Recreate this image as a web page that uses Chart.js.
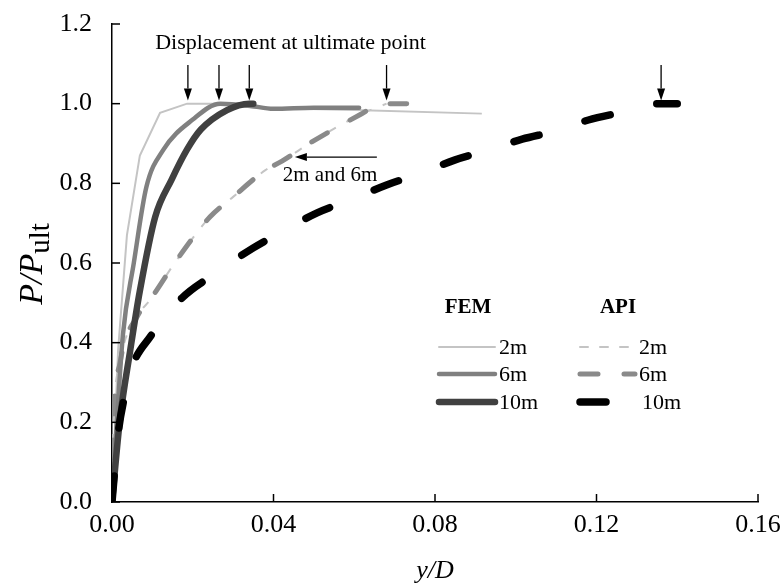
<!DOCTYPE html>
<html>
<head>
<meta charset="utf-8">
<script src="https://cdn.jsdelivr.net/npm/chart.js@4.4.1/dist/chart.umd.min.js"></script>
<style>
  html, body { margin: 0; padding: 0; background: #fff; }
</style>
</head>
<body>
<canvas id="chart" width="784" height="588"></canvas>
<script>
// tick values
const xTicks = [0, 0.04, 0.08, 0.12, 0.16];
const yTicks = [0, 0.2, 0.4, 0.6, 0.8, 1.0, 1.2];

// FEM curves (y/D, P/Pult)
const fem2mX = [0, 0.0015, 0.0037, 0.0069, 0.0119, 0.0186, 0.027, 0.035, 0.06, 0.0916];
const fem2mY = [0, 0.38, 0.67, 0.87, 0.977, 1.0, 1.0, 0.99, 0.984, 0.975];
const fem6mX = [0, 0.0012, 0.0027, 0.0054, 0.0085, 0.0127, 0.02, 0.0268, 0.034, 0.04, 0.05, 0.0612];
const fem6mY = [0, 0.2, 0.42, 0.6, 0.79, 0.884, 0.96, 1.0, 0.995, 0.987, 0.99, 0.99];
const fem10mX = [0, 0.002, 0.0045, 0.0069, 0.0107, 0.0148, 0.0186, 0.022, 0.0285, 0.034, 0.035];
const fem10mY = [0, 0.21, 0.38, 0.53, 0.716, 0.81, 0.885, 0.935, 0.984, 1.0, 1.0];

// API curves
const api2mX = [0, 0.0003, 0.002, 0.0062, 0.0094, 0.016, 0.0243, 0.030, 0.038, 0.042, 0.0495, 0.0614, 0.068];
const api2mY = [0, 0.17, 0.35, 0.465, 0.507, 0.607, 0.716, 0.766, 0.833, 0.855, 0.904, 0.972, 1.0];
const api6mX = [0, 0.0003, 0.002, 0.0062, 0.0094, 0.016, 0.0243, 0.030, 0.038, 0.042, 0.0495, 0.0614, 0.0668, 0.073];
const api6mY = [0, 0.17, 0.35, 0.465, 0.507, 0.607, 0.716, 0.766, 0.833, 0.855, 0.904, 0.972, 0.999, 1.0];
const api10mX = [0, 0.0015, 0.003, 0.005, 0.0094, 0.0173, 0.025, 0.035, 0.042, 0.0508, 0.059, 0.068, 0.0758, 0.085, 0.0924, 0.1016, 0.1097, 0.118, 0.1266, 0.135, 0.14];
const api10mY = [0, 0.17, 0.26, 0.34, 0.414, 0.512, 0.57, 0.638, 0.678, 0.726, 0.758, 0.796, 0.823, 0.859, 0.881, 0.911, 0.931, 0.959, 0.979, 1.0, 1.0];

// displacement at ultimate point (arrows)
const ultimateX = [0.0188, 0.0265, 0.034, 0.068, 0.136];

const serif = "'Liberation Serif', 'Times New Roman', serif";

function pts(xs, ys) {
    return xs.map((x, i) => ({ x: x, y: ys[i] }));
}

// first dataset is drawn on top
const datasets = [
    { label: '10m', group: 'API', data: pts(api10mX, api10mY), borderColor: '#000000', borderWidth: 7.5, borderDash: [26, 48], borderCapStyle: 'round', cubicInterpolationMode: 'monotone' },
    { label: '10m', group: 'FEM', data: pts(fem10mX, fem10mY), borderColor: '#404040', borderWidth: 6.5, borderCapStyle: 'round', cubicInterpolationMode: 'monotone' },
    { label: '6m', group: 'FEM', data: pts(fem6mX, fem6mY), borderColor: '#808080', borderWidth: 4.5, borderCapStyle: 'round', cubicInterpolationMode: 'monotone' },
    { label: '6m', group: 'API', data: pts(api6mX, api6mY), borderColor: '#8a8a8a', borderWidth: 5, borderDash: [18, 26], borderCapStyle: 'round', cubicInterpolationMode: 'monotone' },
    { label: '2m', group: 'API', data: pts(api2mX, api2mY), borderColor: '#c4c4c4', borderWidth: 2, borderDash: [8, 12], cubicInterpolationMode: 'monotone' },
    { label: '2m', group: 'FEM', data: pts(fem2mX, fem2mY), borderColor: '#c4c4c4', borderWidth: 2, tension: 0 }
];
datasets.forEach(d => { d.pointRadius = 0; d.fill = false; });

function drawArrow(ctx, x1, y1, x2, y2) {
    const a = Math.atan2(y2 - y1, x2 - x1);
    const len = 12, half = 4;
    const bx = x2 - len * Math.cos(a), by = y2 - len * Math.sin(a);
    ctx.beginPath();
    ctx.moveTo(x1, y1);
    ctx.lineTo(bx, by);
    ctx.stroke();
    ctx.beginPath();
    ctx.moveTo(x2, y2);
    ctx.lineTo(bx + half * Math.sin(a), by - half * Math.cos(a));
    ctx.lineTo(bx - half * Math.sin(a), by + half * Math.cos(a));
    ctx.closePath();
    ctx.fill();
}

const overlay = {
    id: 'overlay',
    afterDraw(chart) {
        const ctx = chart.ctx;
        const x = chart.scales.x, y = chart.scales.y;
        const area = chart.chartArea;
        ctx.save();
        ctx.strokeStyle = '#000';
        ctx.fillStyle = '#000';
        ctx.lineWidth = 1.5;

        // inward tick marks
        xTicks.forEach(v => {
            const px = x.getPixelForValue(v);
            ctx.beginPath();
            ctx.moveTo(px, area.bottom);
            ctx.lineTo(px, area.bottom - 8);
            ctx.stroke();
        });
        yTicks.forEach(v => {
            const py = y.getPixelForValue(v);
            ctx.beginPath();
            ctx.moveTo(area.left, py);
            ctx.lineTo(area.left + 8, py);
            ctx.stroke();
        });

        // arrows at ultimate displacement
        ctx.lineWidth = 1.3;
        ultimateX.forEach(v => {
            const px = x.getPixelForValue(v);
            drawArrow(ctx, px, y.getPixelForValue(1.097), px, y.getPixelForValue(1.008));
        });
        ctx.font = '22px ' + serif;
        ctx.textAlign = 'center';
        ctx.textBaseline = 'middle';
        ctx.fillText('Displacement at ultimate point', x.getPixelForValue(0.0442), y.getPixelForValue(1.152));

        // "2m and 6m" pointer
        drawArrow(ctx, x.getPixelForValue(0.0656), y.getPixelForValue(0.866), x.getPixelForValue(0.0453), y.getPixelForValue(0.866));
        ctx.font = '21px ' + serif;
        ctx.fillText('2m and 6m', x.getPixelForValue(0.054), y.getPixelForValue(0.82));

        // legend
        const cols = { FEM: { head: 468, x0: 439, x1: 495, tx: 499 }, API: { head: 618, x0: 580, x1: 635, tx: 639 } };
        const rows = { '2m': 347, '6m': 374, '10m': 402 };
        ctx.font = 'bold 21px ' + serif;
        ctx.fillText('FEM', cols.FEM.head, 308);
        ctx.fillText('API', cols.API.head, 308);
        ctx.font = '22px ' + serif;
        ctx.textAlign = 'left';
        datasets.forEach(d => {
            const c = cols[d.group], ry = rows[d.label];
            ctx.save();
            ctx.strokeStyle = d.borderColor;
            ctx.lineWidth = d.borderWidth;
            ctx.lineCap = 'round';
            ctx.setLineDash(d.borderDash || []);
            ctx.beginPath();
            ctx.moveTo(c.x0, ry);
            ctx.lineTo(c.x1, ry);
            ctx.stroke();
            ctx.restore();
            const tx = (d.group === 'API' && d.label === '10m') ? c.tx + 3 : c.tx;
            ctx.fillText(d.label, tx, ry + 1);
        });

        // axis titles
        ctx.textAlign = 'center';
        ctx.font = 'italic 26px ' + serif;
        ctx.fillText('y/D', (area.left + area.right) / 2, 571);

        ctx.save();
        ctx.translate(33, 264);
        ctx.rotate(-Math.PI / 2);
        ctx.textAlign = 'left';
        const main = 'P/P';
        ctx.font = 'italic 34px ' + serif;
        const wMain = ctx.measureText(main).width;
        ctx.font = '29px ' + serif;
        const wSub = ctx.measureText('ult').width;
        const start = -(wMain + wSub) / 2;
        ctx.font = 'italic 34px ' + serif;
        ctx.fillText(main, start, 0);
        ctx.font = '29px ' + serif;
        ctx.fillText('ult', start + wMain, 8);
        ctx.restore();

        ctx.restore();
    }
};

new Chart(document.getElementById('chart'), {
    type: 'line',
    data: { datasets: datasets },
    options: {
        responsive: false,
        animation: false,
        devicePixelRatio: 1,
        layout: { padding: { top: 24, right: 26, left: 0, bottom: 0 } },
        plugins: {
            legend: { display: false },
            tooltip: { enabled: false }
        },
        scales: {
            x: {
                type: 'linear',
                min: 0,
                max: 0.16,
                afterBuildTicks: s => { s.ticks = xTicks.map(v => ({ value: v })); },
                afterFit: s => { s.height = 86; s.paddingLeft = 0; s.paddingRight = 0; },
                grid: { display: false, drawTicks: false },
                border: { display: true, color: '#000', width: 1.5 },
                ticks: {
                    color: '#000',
                    padding: 8,
                    font: { family: serif, size: 26 },
                    callback: v => v.toFixed(2)
                }
            },
            y: {
                type: 'linear',
                min: 0,
                max: 1.2,
                afterBuildTicks: s => { s.ticks = yTicks.map(v => ({ value: v })); },
                afterFit: s => { s.width = 112; s.paddingTop = 0; s.paddingBottom = 0; },
                grid: { display: false, drawTicks: false },
                border: { display: true, color: '#000', width: 1.5 },
                ticks: {
                    color: '#000',
                    padding: 20,
                    font: { family: serif, size: 26 },
                    callback: v => v.toFixed(1)
                }
            }
        }
    },
    plugins: [overlay]
});
</script>
</body>
</html>
